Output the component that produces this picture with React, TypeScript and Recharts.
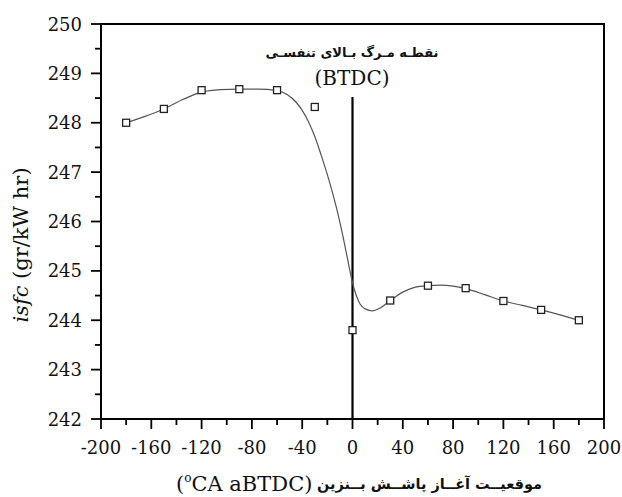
import React from 'react';
import {
  ComposedChart,
  Line,
  Scatter,
  XAxis,
  YAxis,
  ReferenceLine,
  ReferenceArea,
} from 'recharts';

// measured points (square markers)
const crankAngles = [-180, -150, -120, -90, -60, -30, 0, 30, 60, 90, 120, 150, 180];
const isfcMeasured = [248.0, 248.28, 248.66, 248.68, 248.66, 248.32, 243.8, 244.4, 244.7, 244.65, 244.39, 244.21, 244.0];

// fitted curve
const fitAngles = [
  -180, -165, -150, -135, -120, -105, -90, -75, -60, -52, -45, -40, -35, -30, -25, -20, -15, -12, -8, -4,
  0, 3, 6, 10, 16, 22, 30, 40, 50, 60, 70, 80, 90, 105, 120, 135, 150, 165, 180,
];
const fitIsfc = [
  248.0, 248.13, 248.28, 248.47, 248.62, 248.67, 248.68, 248.68, 248.65, 248.57, 248.42, 248.25, 248.02, 247.72,
  247.35, 246.95, 246.5, 246.2, 245.75, 245.25, 244.76, 244.5, 244.33, 244.23, 244.19, 244.25, 244.4, 244.57,
  244.67, 244.7, 244.71, 244.69, 244.64, 244.52, 244.39, 244.3, 244.21, 244.11, 244.0,
];

const xMajorTicks = [-200, -160, -120, -80, -40, 0, 40, 80, 120, 160, 200];
const xMinorTicks = [-180, -140, -100, -60, -20, 20, 60, 100, 140, 180];
const yMajorTicks = [242, 243, 244, 245, 246, 247, 248, 249, 250];
const yMinorTicks = [242.5, 243.5, 244.5, 245.5, 246.5, 247.5, 248.5, 249.5];

const tdcTop = 248.52;

const measured = crankAngles.map((x, i) => ({ x, y: isfcMeasured[i] }));
const fit = fitAngles.map((x, i) => ({ x, y: fitIsfc[i] }));

const serif = 'DejaVu Serif';

const XTick = (props: any) => {
  const { x, y, payload } = props;
  const major = xMajorTicks.includes(payload.value);
  return (
    <g>
      <line x1={x} y1={y} x2={x} y2={y + (major ? 10 : 6)} stroke="#000" strokeWidth={1.8} />
      {major && (
        <text x={x} y={y + 35} textAnchor="middle" fontFamily={serif} fontSize={18} fill="#111">
          {payload.value}
        </text>
      )}
    </g>
  );
};

const YTick = (props: any) => {
  const { x, y, payload } = props;
  const major = yMajorTicks.includes(payload.value);
  return (
    <g>
      <line x1={x} y1={y} x2={x - (major ? 10 : 6)} y2={y} stroke="#000" strokeWidth={1.8} />
      {major && (
        <text x={x - 19} y={y + 6.5} textAnchor="end" fontFamily={serif} fontSize={18} fill="#111">
          {payload.value}
        </text>
      )}
    </g>
  );
};

const SquareDot = (props: any) => {
  const { cx, cy } = props;
  return <rect x={cx - 3.5} y={cy - 3.5} width={7} height={7} fill="#fff" stroke="#222" strokeWidth={1.3} />;
};

export default function App() {
  return (
    <div style={{ position: 'absolute', left: 0, top: 0, width: 622, height: 497, background: '#fff' }}>
      <ComposedChart width={622} height={497} margin={{ top: 24, right: 18, left: 41, bottom: 28 }}>
        <XAxis
          type="number"
          dataKey="x"
          domain={[-200, 200]}
          ticks={[...xMajorTicks, ...xMinorTicks].sort((a, b) => a - b)}
          tick={<XTick />}
          tickSize={0}
          tickMargin={0}
          tickLine={false}
          axisLine={{ stroke: '#000', strokeWidth: 2 }}
          height={50}
          interval={0}
        />
        <YAxis
          type="number"
          dataKey="y"
          domain={[242, 250]}
          ticks={[...yMajorTicks, ...yMinorTicks].sort((a, b) => a - b)}
          tick={<YTick />}
          tickSize={0}
          tickMargin={0}
          tickLine={false}
          axisLine={{ stroke: '#000', strokeWidth: 2 }}
          width={60}
          interval={0}
        />
        <ReferenceArea x1={-200} x2={200} y1={242} y2={250} fill="none" stroke="#000" strokeWidth={2} />
        <ReferenceLine
          segment={[
            { x: 0, y: 242 },
            { x: 0, y: tdcTop },
          ]}
          stroke="#000"
          strokeWidth={2.2}
        />
        <Line
          data={fit}
          dataKey="y"
          type="monotone"
          stroke="#555"
          strokeWidth={1.2}
          dot={false}
          isAnimationActive={false}
        />
        <Scatter data={measured} dataKey="y" shape={<SquareDot />} isAnimationActive={false} />
      </ComposedChart>
      <svg
        width={622}
        height={497}
        style={{ position: 'absolute', left: 0, top: 0, pointerEvents: 'none' }}
      >
        <text
          x={352}
          y={57}
          textAnchor="middle"
          fontFamily="DejaVu Sans"
          fontWeight="bold"
          fontSize={13}
          fill="#111"
          direction="rtl"
        >
          نقطـه مـرگ بـالای تنفسـی
        </text>
        <text x={352} y={85} textAnchor="middle" fontFamily={serif} fontSize={20} fill="#111">
          (BTDC)
        </text>
        <text
          transform="translate(28,245) rotate(-90)"
          textAnchor="middle"
          fontFamily={serif}
          fontSize={21}
          fill="#111"
        >
          <tspan fontStyle="italic">isfc</tspan> (gr/kW hr)
        </text>
        <text x={176} y={491} fontFamily={serif} fontSize={21} fill="#111">
          (<tspan dy={-9} fontSize={12}>o</tspan>
          <tspan dy={9}>CA aBTDC)</tspan>
        </text>
        <text
          x={542}
          y={489}
          textAnchor="start"
          fontFamily="DejaVu Sans"
          fontWeight="bold"
          fontSize={14.5}
          fill="#111"
          direction="rtl"
        >
          موقعیــت آغــاز پاشــش بــنزین
        </text>
      </svg>
    </div>
  );
}
